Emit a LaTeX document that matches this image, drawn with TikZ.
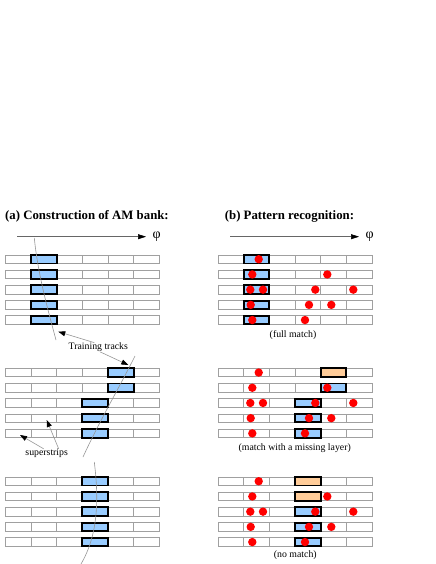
\documentclass[tikz,border=0pt]{standalone}
\usepackage{fontspec}
\setmainfont{Liberation Serif}
\usetikzlibrary{arrows.meta}
\definecolor{stripgray}{RGB}{160,160,160}
\definecolor{hitblue}{RGB}{153,204,255}
\definecolor{hitorange}{RGB}{255,204,153}
\definecolor{trackgray}{RGB}{150,150,150}
\tikzset{
  stripline/.style={draw=stripgray, line width=0.7bp},
  boxline/.style={draw=black, line width=1.9bp},
  trackline/.style={draw=trackgray, line width=0.6bp},
  labarrow/.style={draw=trackgray, line width=0.6bp, -{Triangle[length=7bp,width=5bp,color=black]}},
  axisarrow/.style={draw=black!60, line width=0.6bp, -{Triangle[length=8bp,width=5bp,color=black]}},
  titletext/.style={inner sep=0pt, font=\fontsize{12.8bp}{15bp}\selectfont\bfseries},
  smalltext/.style={inner sep=0pt, font=\fontsize{9.8bp}{11bp}\selectfont},
  phitext/.style={inner sep=0pt, font=\fontsize{14bp}{16bp}\selectfont},
  hitdot/.style={fill=red}
}
\newcommand\mystrip[2]{%
  \draw[stripline, fill=white] (#1,#2) rectangle ++(154,8.5);
  \foreach \k in {1,...,5} {\draw[stripline] (#1+25.67*\k,#2) -- ++(0,8.5);}
}
\newcommand\mybox[4]{%
  \draw[boxline, fill=#4] (#1+25.67*#3,#2) rectangle ++(25.67,8.5);
}
\begin{document}
\begin{tikzpicture}[x=1bp,y=-1bp]
\useasboundingbox (0,0) rectangle (436,564);
% titles
\node[titletext, anchor=base west] (ta) at (5,219) {(a) Construction of AM bank:};
\node[titletext, anchor=base west] (tb) at (224.7,219) {(b) Pattern recognition:};
% phi axes
\coordinate (axa0) at (17.3,236.7);
\coordinate (axa1) at (146,236.7);
\coordinate (axb0) at (230.3,236.7);
\coordinate (axb1) at (359,236.7);
\node[phitext] (phia) at (156.7,237) {φ};
\node[phitext] (phib) at (369.7,237) {φ};
\draw[axisarrow] (axa0) -- (axa1);
\draw[axisarrow] (axb0) -- (axb1);
% strips
\foreach \yt in {255,270.2,285.4,300.6,315.8, 368.3,383.5,398.7,413.9,429.1, 477,492.2,507.4,522.6,537.8} {
  \mystrip{5.3}{\yt}
  \mystrip{218}{\yt}
}
% left boxes
\foreach \yt in {255,270.2,285.4,300.6,315.8} {\mybox{5.3}{\yt}{1}{hitblue}}
\foreach \yt in {368.3,383.5} {\mybox{5.3}{\yt}{4}{hitblue}}
\foreach \yt in {398.7,413.9,429.1} {\mybox{5.3}{\yt}{3}{hitblue}}
\foreach \yt in {477,492.2,507.4,522.6,537.8} {\mybox{5.3}{\yt}{3}{hitblue}}
% right boxes
\foreach \yt in {255,270.2,285.4,300.6,315.8} {\mybox{218}{\yt}{1}{hitblue}}
\mybox{218}{368.3}{4}{hitorange}
\mybox{218}{383.5}{4}{hitblue}
\foreach \yt in {398.7,413.9,429.1} {\mybox{218}{\yt}{3}{hitblue}}
\foreach \yt in {477,492.2} {\mybox{218}{\yt}{3}{hitorange}}
\foreach \yt in {507.4,522.6,537.8} {\mybox{218}{\yt}{3}{hitblue}}
% hits (same event in each section)
\foreach \yo in {0,113.3,222} {
  \foreach \xx in {40.7} {\fill[hitdot] (218+\xx,259.25+\yo) circle (4.2bp);}
  \foreach \xx in {34.3,109.3} {\fill[hitdot] (218+\xx,274.45+\yo) circle (4.2bp);}
  \foreach \xx in {32.3,45,97.3,135.3} {\fill[hitdot] (218+\xx,289.65+\yo) circle (4.2bp);}
  \foreach \xx in {32.7,91,113.3} {\fill[hitdot] (218+\xx,304.85+\yo) circle (4.2bp);}
  \foreach \xx in {34.3,87} {\fill[hitdot] (218+\xx,320.05+\yo) circle (4.2bp);}
}
% training tracks
\draw[trackline] (34.3,238) .. controls (38,275) and (48,310) .. (56,340);
\draw[trackline] (135,356) .. controls (118,390) and (100,420) .. (83,457);
\draw[trackline] (94.3,462) .. controls (99,500) and (98,535) .. (81,564);
% labels
\node[smalltext] (train) at (98.3,347.3) {Training tracks};
\node[smalltext] (sup) at (46.7,453.3) {superstrips};
\coordinate (tr1) at (58.3,331.7);
\coordinate (tr2) at (128.3,365);
\coordinate (su1) at (20,435);
\coordinate (su2) at (46.7,420);
\draw[labarrow] ([xshift=-4bp]train.north) -- (tr1);
\draw[labarrow] ([xshift=2bp]train.south) -- (tr2);
\draw[labarrow] ([xshift=-3bp]sup.north) -- (su1);
\draw[labarrow] ([xshift=12bp]sup.north) -- (su2);
\node[smalltext] (full) at (293,335) {(full match)};
\node[smalltext] (miss) at (294.7,448.3) {(match with a missing layer)};
\node[smalltext] (nomatch) at (295.3,555) {(no match)};
\end{tikzpicture}
\end{document}
